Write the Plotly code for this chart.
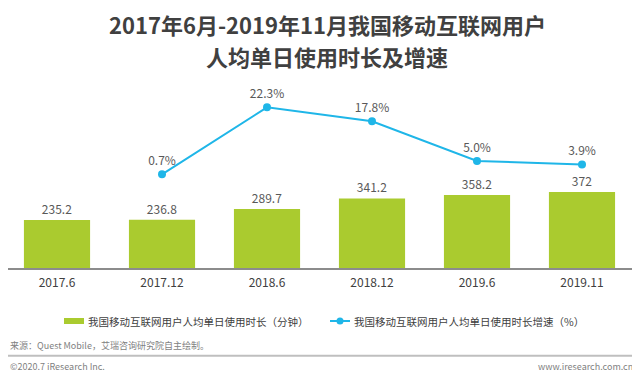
import plotly.graph_objects as go

categories = ["2017.6", "2017.12", "2018.6", "2018.12", "2019.6", "2019.11"]
duration_min = [235.2, 236.8, 289.7, 341.2, 358.2, 372]
duration_labels = ["235.2", "236.8", "289.7", "341.2", "358.2", "372"]
growth_pct = [None, 0.7, 22.3, 17.8, 5.0, 3.9]
growth_labels = ["", "0.7%", "22.3%", "17.8%", "5.0%", "3.9%"]

bar_name = "我国移动互联网用户人均单日使用时长（分钟）"
line_name = "我国移动互联网用户人均单日使用时长增速（%）"
title_l1 = "2017年6月-2019年11月我国移动互联网用户"
title_l2 = "人均单日使用时长及增速"
source_text = "来源：Quest Mobile，艾瑞咨询研究院自主绘制。"
copyright_text = "©2020.7 iResearch Inc."
site_text = "www.iresearch.com.cn"

BAR_COLOR = "#AACB2F"
LINE_COLOR = "#1FB6E8"
FONT = "Noto Sans CJK SC, Noto Sans, sans-serif"
W, H = 640, 382
OFF = 8  # page body margin in the browser
TOP, BOTTOM = 80 - OFF, 268 - OFF  # plot area in figure pixels

def py(page_y):
    return (BOTTOM - (page_y - OFF)) / (BOTTOM - TOP)

def px(page_x):
    return (page_x - OFF) / W

# x axis: categories spaced 105 px, first band starting at page x 4.5
band = 105.0
x_start = -0.5 + (OFF - 4.5) / band
x_end_px = 634.5 - OFF

fig = go.Figure()
fig.add_trace(go.Bar(
    x=categories, y=duration_min, name=bar_name,
    marker=dict(color=BAR_COLOR, line=dict(width=0)),
    text=duration_labels, textposition="outside",
    textfont=dict(size=12, color="#595959", family=FONT),
    cliponaxis=False,
))
fig.add_trace(go.Scatter(
    x=categories, y=growth_pct, name=line_name, yaxis="y2",
    mode="lines+markers+text",
    line=dict(color=LINE_COLOR, width=2),
    marker=dict(color=LINE_COLOR, size=8),
    text=growth_labels, textposition="top center",
    textfont=dict(size=12, color="#595959", family=FONT),
    cliponaxis=False,
))

title_font = dict(size=22, color="#404040", family=FONT, weight="bold")
annotations = [
    dict(text=title_l1, x=px(327), y=py(23.5), xref="paper", yref="paper",
         showarrow=False, xanchor="center", yanchor="middle", font=title_font),
    dict(text=title_l2, x=px(327), y=py(55.5), xref="paper", yref="paper",
         showarrow=False, xanchor="center", yanchor="middle", font=title_font),
    # legend texts
    dict(text=bar_name, x=px(86), y=py(321), xref="paper", yref="paper",
         showarrow=False, xanchor="left", yanchor="middle",
         font=dict(size=10.5, color="#404040", family=FONT)),
    dict(text=line_name, x=px(352), y=py(321), xref="paper", yref="paper",
         showarrow=False, xanchor="left", yanchor="middle",
         font=dict(size=10.5, color="#404040", family=FONT)),
    # footer
    dict(text=source_text, x=0, y=py(345.5), xref="paper", yref="paper",
         showarrow=False, xanchor="left", yanchor="middle",
         font=dict(size=9, color="#7f7f7f", family=FONT)),
    dict(text=copyright_text, x=0, y=py(366), xref="paper", yref="paper",
         showarrow=False, xanchor="left", yanchor="middle",
         font=dict(size=9, color="#7f7f7f", family=FONT)),
    dict(text=site_text, x=px(635), y=py(366), xref="paper", yref="paper",
         showarrow=False, xanchor="right", yanchor="middle",
         font=dict(size=9, color="#7f7f7f", family=FONT)),
]

shapes = [
    # legend swatches
    dict(type="rect", xref="paper", yref="paper", x0=px(64), x1=px(84),
         y0=py(324), y1=py(318), fillcolor=BAR_COLOR, line=dict(width=0)),
    dict(type="line", xref="paper", yref="paper", x0=px(330), x1=px(350),
         y0=py(321), y1=py(321), line=dict(color=LINE_COLOR, width=2)),
    dict(type="circle", xref="paper", yref="paper", x0=px(336.5), x1=px(343.5),
         y0=py(324.5), y1=py(317.5), fillcolor=LINE_COLOR, line=dict(width=0)),
    # footer separator
    dict(type="line", xref="paper", yref="paper", x0=0, x1=px(635),
         y0=py(355.7), y1=py(355.7), line=dict(color="#BFBFBF", width=2)),
]

fig.update_layout(
    width=W, height=H,
    margin=dict(l=0, r=0, t=TOP, b=H - BOTTOM, pad=0),
    paper_bgcolor="white", plot_bgcolor="white",
    font=dict(family=FONT, color="#404040"),
    bargap=0.37,
    showlegend=False,
    xaxis=dict(domain=[0, x_end_px / W], range=[x_start, 5.5],
               showline=True, linecolor="#8c8c8c",
               linewidth=1.5, ticks="", showgrid=False, zeroline=False,
               ticklabelstandoff=3,
               tickfont=dict(size=12, color="#404040", family=FONT)),
    yaxis=dict(range=[0, 921.6], visible=False, showgrid=False, zeroline=False),
    yaxis2=dict(range=[-29.5, 31.1], overlaying="y", visible=False,
                showgrid=False, zeroline=False),
    annotations=annotations,
    shapes=shapes,
)

fig.write_html("out.html")
